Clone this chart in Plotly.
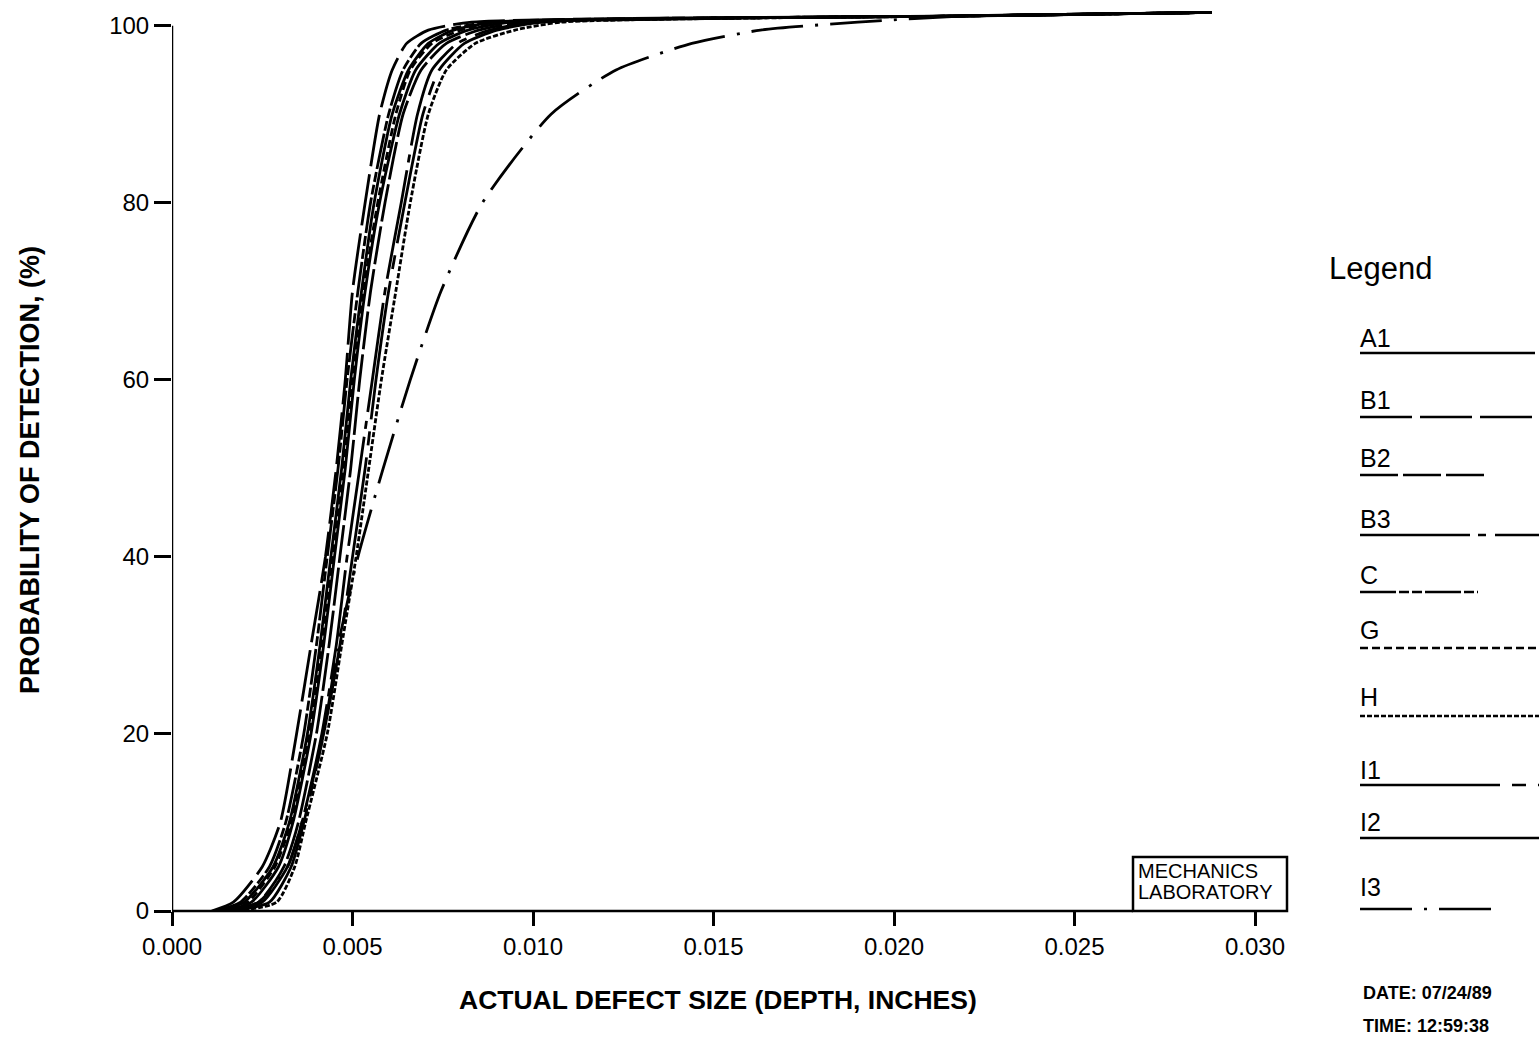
import plotly.graph_objects as go

# ---------------- data ----------------
# POD levels (%) shared by the rising part of every curve
pod_levels = [0, 1, 5, 10, 20, 30, 40, 50, 60, 70, 80, 90, 95, 98, 99.5, 100.4]
# common plateau along the top of the chart (depth in inches, POD %)
plateau_depth = [0.022, 0.0288]
plateau_pod = [101.1, 101.5]

# depth (thousandths of an inch) at which each curve reaches the POD levels
depth_A1 = [1.3, 2.0, 2.8, 3.25, 3.75, 4.1, 4.4, 4.7, 4.95, 5.25, 5.6, 6.1, 6.55, 7.1, 7.8, 9.0]
depth_B1 = [1.1, 1.7, 2.5, 3.0, 3.45, 3.85, 4.25, 4.55, 4.8, 5.0, 5.35, 5.75, 6.1, 6.5, 7.1, 8.3]
depth_B2 = [1.5, 2.4, 3.1, 3.5, 4.0, 4.35, 4.65, 4.95, 5.2, 5.5, 5.9, 6.4, 6.9, 7.6, 8.5, 9.8]
depth_B3 = [1.6, 2.5, 3.2, 3.6, 4.15, 4.55, 4.85, 5.2, 5.55, 5.9, 6.35, 6.8, 7.2, 7.9, 8.8, 10.0]
depth_C = [1.2, 1.9, 2.7, 3.15, 3.65, 4.0, 4.3, 4.6, 4.85, 5.15, 5.5, 6.0, 6.4, 6.9, 7.6, 8.8]
depth_G = [1.3, 2.1, 2.85, 3.3, 3.8, 4.15, 4.45, 4.75, 5.0, 5.3, 5.7, 6.2, 6.6, 7.2, 8.0, 9.2]
depth_H = [1.8, 2.9, 3.4, 3.7, 4.3, 4.7, 5.1, 5.45, 5.8, 6.2, 6.6, 7.1, 7.6, 8.4, 9.5, 10.8]
depth_I1 = [1.7, 2.7, 3.3, 3.65, 4.2, 4.65, 5.0, 5.35, 5.65, 6.0, 6.45, 6.95, 7.4, 8.1, 9.0, 10.3]
depth_I2 = [1.4, 2.2, 2.95, 3.35, 3.85, 4.2, 4.5, 4.8, 5.05, 5.35, 5.75, 6.3, 6.75, 7.4, 8.2, 9.4]
depth_I3 = [1.5, 2.4, 3.2, 3.6, 4.2, 4.6, 5.15, 5.85, 6.6, 7.45, 8.6, 10.5, 12.3, 14.4, 16.3, 19.0]

series_names = ["A1", "B1", "B2", "B3", "C", "G", "H", "I1", "I2", "I3"]
series_depths = [depth_A1, depth_B1, depth_B2, depth_B3, depth_C,
                 depth_G, depth_H, depth_I1, depth_I2, depth_I3]

x_ticks = [0.000, 0.005, 0.010, 0.015, 0.020, 0.025, 0.030]
x_tick_text = ["0.000", "0.005", "0.010", "0.015", "0.020", "0.025", "0.030"]
y_ticks = [0, 20, 40, 60, 80, 100]
y_tick_text = ["0", "20", "40", "60", "80", "100"]

# ---------------- styles ----------------
dashes = {
    "A1": "solid",
    "B1": "52px,8px",
    "B2": "38px,5px",
    "B3": "110px,8px,8px,9px",
    "C": "36px,3px,10px,3px,10px,3px",
    "G": "8px,4px",
    "H": "5px,2px",
    "I1": "140px,12px,14px,12px",
    "I2": "solid",
    "I3": "52px,12px,3px,12px",
}
FONT = "Liberation Sans, Arial, Helvetica, sans-serif"

W, H = 1539, 1042
L, R, T, B = 172, 284, 8, 131
PW, PH = W - L - R, H - T - B


def px_x(px):
    return (px - L) / PW


def px_y(py):
    return (H - B - py) / PH


fig = go.Figure()
for name, dep in zip(series_names, series_depths):
    xs = [d / 1000.0 for d in dep] + plateau_depth
    ys = pod_levels + plateau_pod
    fig.add_trace(go.Scatter(
        x=xs, y=ys, mode="lines", name=name, showlegend=False,
        line=dict(color="black", width=2.8, dash=dashes[name],
                  shape="spline", smoothing=0.6),
        hoverinfo="skip",
    ))

shapes = []
# axis lines
shapes.append(dict(type="line", xref="x", yref="y", x0=0, x1=0, y0=0, y1=100,
                   line=dict(color="black", width=2.5)))
shapes.append(dict(type="line", xref="x", yref="paper", x0=0, x1=0.02662, y0=0, y1=0,
                   line=dict(color="black", width=2.5)))
# Mechanics laboratory box
shapes.append(dict(type="rect", xref="paper", yref="paper",
                   x0=px_x(1133), x1=px_x(1287), y0=px_y(911), y1=px_y(857),
                   line=dict(color="black", width=2.5), fillcolor="white", layer="above"))

annotations = []
annotations.append(dict(text="MECHANICS", xref="paper", yref="paper", x=px_x(1136), y=px_y(871),
                        xanchor="left", yanchor="middle", showarrow=False,
                        font=dict(family=FONT, size=20, color="black")))
annotations.append(dict(text="LABORATORY", xref="paper", yref="paper", x=px_x(1136), y=px_y(892),
                        xanchor="left", yanchor="middle", showarrow=False,
                        font=dict(family=FONT, size=20, color="black")))

# axis titles
annotations.append(dict(text="<b>PROBABILITY OF DETECTION, (%)</b>", xref="paper", yref="paper",
                        x=px_x(30), y=px_y(470), textangle=-90, showarrow=False,
                        xanchor="center", yanchor="middle",
                        font=dict(family=FONT, size=27, color="black")))
annotations.append(dict(text="<b>ACTUAL DEFECT SIZE (DEPTH, INCHES)</b>", xref="paper", yref="paper",
                        x=px_x(718), y=px_y(1000), showarrow=False,
                        xanchor="center", yanchor="middle",
                        font=dict(family=FONT, size=26.5, color="black")))

# legend block
annotations.append(dict(text="Legend", xref="paper", yref="paper", x=px_x(1327), y=px_y(268),
                        xanchor="left", yanchor="middle", showarrow=False,
                        font=dict(family=FONT, size=31, color="black")))
legend_text_y = [338, 400, 458, 519, 575, 630, 697, 770, 822, 887]
legend_line_y = [353, 417, 475, 535, 592, 648, 716, 785, 838, 909]
legend_line_end = [1535, 1539, 1485, 1539, 1478, 1539, 1539, 1539, 1539, 1497]
for name, ty, ly, xe in zip(series_names, legend_text_y, legend_line_y, legend_line_end):
    annotations.append(dict(text=name, xref="paper", yref="paper", x=px_x(1358), y=px_y(ty),
                            xanchor="left", yanchor="middle", showarrow=False,
                            font=dict(family=FONT, size=25, color="black")))
    shapes.append(dict(type="line", xref="paper", yref="paper",
                       x0=px_x(1360), x1=px_x(xe), y0=px_y(ly), y1=px_y(ly),
                       line=dict(color="black", width=2.5, dash=dashes[name])))

annotations.append(dict(text="<b>DATE: 07/24/89</b>", xref="paper", yref="paper", x=px_x(1361), y=px_y(993),
                        xanchor="left", yanchor="middle", showarrow=False,
                        font=dict(family=FONT, size=18, color="black")))
annotations.append(dict(text="<b>TIME: 12:59:38</b>", xref="paper", yref="paper", x=px_x(1361), y=px_y(1026),
                        xanchor="left", yanchor="middle", showarrow=False,
                        font=dict(family=FONT, size=18, color="black")))

fig.update_layout(
    width=W, height=H,
    margin=dict(l=L, r=R, t=T, b=B, pad=0),
    paper_bgcolor="white", plot_bgcolor="white",
    showlegend=False,
    shapes=shapes, annotations=annotations,
    xaxis=dict(range=[0, 0.030], tickvals=x_ticks, ticktext=x_tick_text,
               ticks="outside", ticklen=14, tickwidth=2.5, tickcolor="black",
               showline=False, showgrid=False, zeroline=False,
               tickfont=dict(family=FONT, size=24, color="black")),
    yaxis=dict(range=[0, 102], tickvals=y_ticks, ticktext=y_tick_text,
               ticks="outside", ticklen=17, tickwidth=2.5, tickcolor="black",
               showline=False, showgrid=False, zeroline=False,
               tickfont=dict(family=FONT, size=24, color="black")),
)

fig.write_html("out.html", config={"displayModeBar": False},
               post_script="document.body.style.margin='0';")
